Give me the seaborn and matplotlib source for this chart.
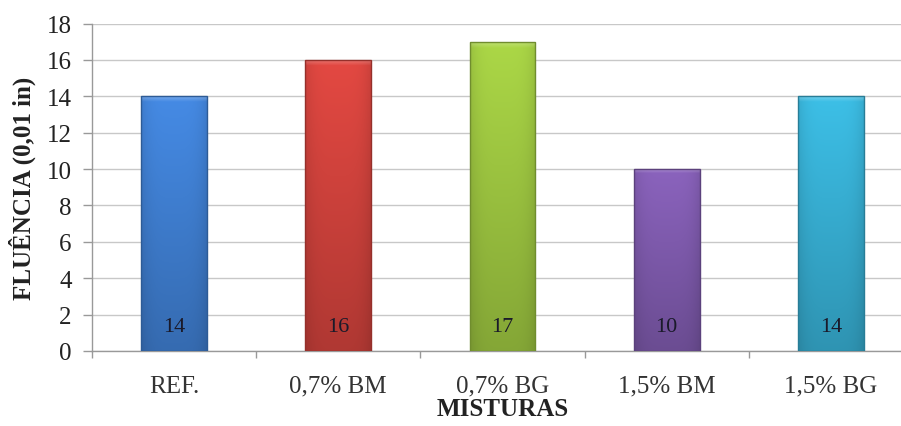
import matplotlib
matplotlib.use("Agg")
import matplotlib.pyplot as plt
import matplotlib.colors as mcolors
import seaborn as sns
import pandas as pd
import numpy as np

misturas = ["REF.", "0,7% BM", "0,7% BG", "1,5% BM", "1,5% BG"]
fluencia = [14, 16, 17, 10, 14]
cores = ["#3F7ED0", "#CF423C", "#9CC440", "#7E5AAC", "#37AED2"]
yticks = [0, 2, 4, 6, 8, 10, 12, 14, 16, 18]

sns.set_theme(style="white")
plt.rcParams["font.family"] = ["Liberation Serif", "DejaVu Serif"]

df = pd.DataFrame({"mistura": misturas, "fluencia": fluencia})

fig = plt.figure(figsize=(9.01, 4.27), dpi=100)
ax = fig.add_axes([92 / 901, 75 / 427, 821 / 901, 327.5 / 427])

sns.barplot(data=df, x="mistura", y="fluencia", hue="mistura",
            palette=cores, saturation=1, width=0.4, legend=False, ax=ax,
            linewidth=0, zorder=3)


def shaded(rgb, h=200, w=40):
    """Vertical light-to-dark ramp with slightly darker side edges."""
    rgb = np.array(rgb)
    t = np.linspace(0, 1, h)[:, None]
    s = np.linspace(-1, 1, w)[None, :]
    vert = 1.10 - 0.25 * t
    side = 1.0 - 0.10 * np.abs(s) ** 4
    fac = (vert * side)[..., None]
    img = np.clip(rgb[None, None, :] * fac, 0, 1)
    # soft highlight band along the top edge
    top = np.clip(1 - np.arange(h) / 4.0, 0, 1)[:, None, None]
    img = img * (1 - 0.25 * top) + 0.25 * top
    return img


for patch, c in zip(ax.patches, cores):
    x0, y0 = patch.get_x(), patch.get_y()
    w, h = patch.get_width(), patch.get_height()
    rgb = mcolors.to_rgb(c)
    im = ax.imshow(shaded(rgb), extent=[x0, x0 + w, y0, y0 + h],
                   origin="upper", aspect="auto", zorder=3.5, interpolation="bilinear")
    im.set_clip_path(patch)
    dark = tuple(np.array(rgb) * 0.72)
    ax.add_patch(plt.Rectangle((x0, y0), w, h, fill=False, edgecolor=dark,
                               linewidth=1.0, zorder=3.6))

ax.set_ylim(0, 18)
ax.set_xlim(-0.5, 4.5)
ax.set_yticks(yticks)
ax.set_yticklabels([str(v) for v in yticks], fontsize=18, color="#222222")
ax.set_xticks(range(len(misturas)))
ax.set_xticklabels(misturas, fontsize=18, color="#333333")
ax.tick_params(axis="x", length=0, pad=17)
ax.set_xticks(np.arange(-0.5, 4.6, 1.0), minor=True)
ax.tick_params(axis="x", which="minor", length=5, color="#999999", width=1,
               direction="out", bottom=True)
ax.tick_params(axis="y", length=6.5, color="#999999", width=1, direction="out",
               left=True, pad=8)

ax.grid(axis="y", color="#C8C8C8", linewidth=1.0, zorder=0)
ax.set_axisbelow(True)
for s in ["top", "right"]:
    ax.spines[s].set_visible(False)
for s in ["left", "bottom"]:
    ax.spines[s].set_color("#999999")
    ax.spines[s].set_linewidth(1.0)

for i, v in enumerate(fluencia):
    ax.text(i, 1.35, str(v), ha="center", va="center", fontsize=16,
            color="#1a1a2a", zorder=5)

ax.set_ylabel("FLUÊNCIA (0,01 in)", fontsize=18, fontweight="bold", color="#222222")
ax.set_xlabel("MISTURAS", fontsize=18, fontweight="bold", color="#222222")
ax.yaxis.set_label_coords(-(92 - 22) / 821, 0.5)
ax.xaxis.set_label_coords((503 - 92) / 821, -(410 - 352) / 327.5)
ax.xaxis.label.set_va("center")
ax.yaxis.label.set_va("center")

fig.savefig("out.png", dpi=100)
